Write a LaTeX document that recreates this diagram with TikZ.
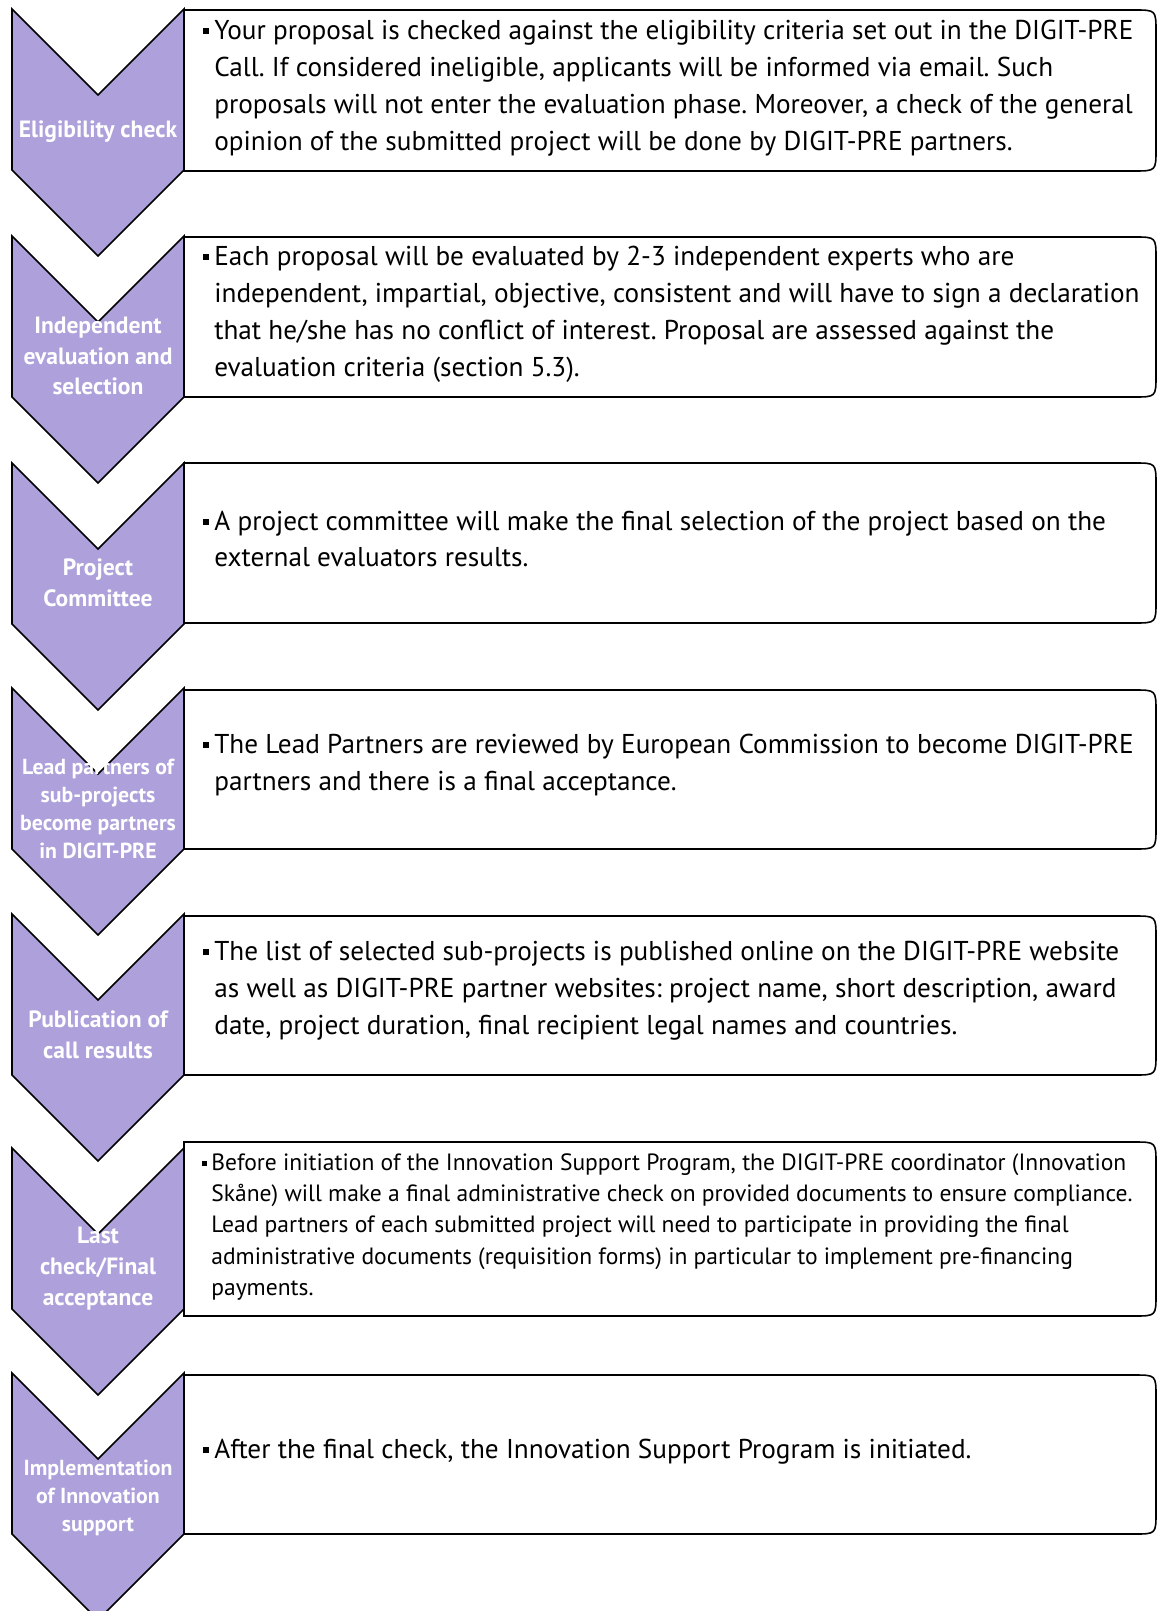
\documentclass[tikz,border=0pt]{standalone}
\usepackage{fontspec}
\setmainfont{PT Sans}
\usepackage{tikz}
\usetikzlibrary{positioning}
\frenchspacing
\definecolor{lavender}{RGB}{173,160,219}
\newcommand{\bul}{\llap{\rule[0.2em]{0.22em}{0.22em}\hspace{0.18em}}}
\newcommand{\chevron}[1]{\draw[stage] (12,#1) -- (98,#1+86) -- (184,#1) -- (184,#1+161) -- (98,#1+247) -- (12,#1+161) -- cycle;}
\newcommand{\panel}[2]{\draw[box] (184,#1) -- (1134,#1) .. controls (1156,#1) .. (1156,#1+22) -- (1156,#2-22) .. controls (1156,#2) .. (1134,#2) -- (184,#2) -- cycle;}
\tikzstyle{stage} = [draw, fill=lavender, line width=0.9pt, line join=miter]
\tikzstyle{box} = [draw, fill=white, line width=0.9pt]
\tikzstyle{stagetext} = [text=white, align=center, inner sep=0pt, font=\bfseries\fontsize{13.4}{17.6}\selectfont]
\tikzstyle{smallstage} = [stagetext, font=\bfseries\fontsize{12.4}{15.9}\selectfont]
\tikzstyle{infotext} = [anchor=west, align=left, inner sep=0pt, font=\fontsize{15.5}{21}\selectfont]
\tikzstyle{smallinfo} = [infotext, font=\fontsize{13.4}{17.8}\selectfont]

\begin{document}
\begin{tikzpicture}[x=0.02cm, y=-0.02cm]
			\useasboundingbox (0,0) rectangle (1157,1611);
			\panel{10}{171}
			\panel{237}{397}
			\panel{463}{623}
			\panel{690}{849}
			\panel{916}{1075}
			\panel{1142}{1316}
			\panel{1375}{1534}
			\chevron{9}
			\chevron{236}
			\chevron{463}
			\chevron{688}
			\chevron{914}
			\chevron{1148}
			\chevron{1373}
			\node[stagetext] (elig) at (98, 132) {Eligibility check};
			\node[stagetext] (indep) at (98, 356) {Independent\\evaluation and\\selection};
			\node[stagetext] (comm) at (98, 583) {Project\\Committee};
			\node[smallstage] (lead) at (98, 809) {Lead partners of\\sub-projects\\become partners\\in DIGIT-PRE};
			\node[stagetext] (publ) at (98, 1035) {Publication of\\call results};
			\node[stagetext] (last) at (98, 1269) {Last\\check/Final\\acceptance};
			\node[smallstage] (impl) at (98, 1498) {Implementation\\of Innovation\\support};
			\node[infotext] (eligtxt) at (214, 88) {\bul Your proposal is checked against the eligibility criteria set out in the DIGIT-PRE\\Call. If considered ineligible, applicants will be informed via email. Such\\proposals will not enter the evaluation phase. Moreover, a check of the general\\opinion of the submitted project will be done by DIGIT-PRE partners.};
			\node[infotext] (indeptxt) at (214, 314) {\bul Each proposal will be evaluated by 2-3 independent experts who are\\independent, impartial, objective, consistent and will have to sign a declaration\\that he/she has no conflict of interest. Proposal are assessed against the\\evaluation criteria (section 5.3).};
			\node[infotext] (commtxt) at (214, 539) {\bul A project committee will make the final selection of the project based on the\\external evaluators results.};
			\node[infotext] (leadtxt) at (214, 765) {\bul The Lead Partners are reviewed by European Commission to become DIGIT-PRE\\partners and there is a final acceptance.};
			\node[infotext] (publtxt) at (214, 991) {\bul The list of selected sub-projects is published online on the DIGIT-PRE website\\as well as DIGIT-PRE partner websites: project name, short description, award\\date, project duration, final recipient legal names and countries.};
			\node[smallinfo] (lasttxt) at (211, 1227) {\bul Before initiation of the Innovation Support Program, the DIGIT-PRE coordinator (Innovation\\Skåne) will make a final administrative check on provided documents to ensure compliance.\\Lead partners of each submitted project will need to participate in providing the final\\administrative documents (requisition forms) in particular to implement pre-financing\\payments.};
			\node[infotext] (impltxt) at (214, 1452) {\bul After the final check, the Innovation Support Program is initiated.};
		\end{tikzpicture}
\end{document}
